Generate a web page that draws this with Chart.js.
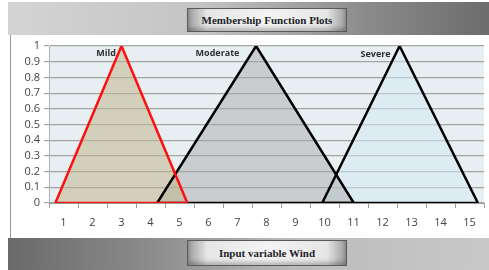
<!DOCTYPE html>
<html>
<head>
<meta charset="utf-8">
<script src="https://cdn.jsdelivr.net/npm/chart.js@4/dist/chart.umd.min.js"></script>
<style>
  body { margin: 0; background: #fff; }
  #wrap { position: relative; width: 489px; height: 270px; overflow: hidden; }
  .band { position: absolute; left: 8px; right: 0; }
  #top { top: 2px; height: 33px; background: linear-gradient(to right, #d4d4d4 0%, #c4c4c4 40%, #8a8a8a 75%, #6c6c6c 100%); }
  #bottom { top: 238px; height: 32px; background: linear-gradient(to right, #6a6a6a 0%, #8c8c8c 30%, #bcbcbc 60%, #c8c8c8 100%); }
  #panel { position: absolute; left: 10px; right: 0; top: 35px; height: 203px; background: #fff; border-left: 1px solid #9a9a9a; }
  .box { position: absolute; left: 187px; width: 158px; border: 1px solid #5a5a5a;
    background: linear-gradient(to right, #9c9c9c 0%, #e6e6e6 12%, #f4f4f4 50%, #e6e6e6 88%, #9c9c9c 100%);
    box-shadow: inset 0 -3px 4px rgba(0,0,0,0.25);
    font: bold 11px "Liberation Serif", "DejaVu Serif", serif; color: #1e1e2a; text-align: center; z-index: 2; }
  #title { top: 8px; height: 22px; line-height: 22px; }
  #xtitle { top: 240px; height: 24px; line-height: 24px; }
  canvas { position: absolute; left: 0; top: 0; z-index: 1; }
</style>
</head>
<body>
<div id="wrap">
  <div id="top" class="band"></div>
  <div id="bottom" class="band"></div>
  <div id="panel"></div>
  <div id="title" class="box">Membership Function Plots</div>
  <div id="xtitle" class="box">Input variable Wind</div>
  <canvas id="chart" width="489" height="270"></canvas>
</div>
<script>
// x axis categories (tick labels)
var categories = ["1", "2", "3", "4", "5", "6", "7", "8", "9", "10", "11", "12", "13", "14", "15"];
// y axis tick values
var yTicks = [0, 0.1, 0.2, 0.3, 0.4, 0.5, 0.6, 0.7, 0.8, 0.9, 1];

// triangle membership functions: left foot, peak, right foot
var mildX = [0.72, 3.0, 5.27];
var mildY = [0, 1, 0];
var moderateX = [4.23, 7.64, 11.01];
var moderateY = [0, 1, 0];
var severeX = [9.92, 12.59, 15.29];
var severeY = [0, 1, 0];

// series names written near the peaks
var seriesNames = ["Mild", "Moderate", "Severe"];
var nameX = [2.47, 6.31, 11.76];
var nameY = [0.955, 0.955, 0.945];

function pts(xs, ys) {
  return xs.map(function (x, i) { return { x: x, y: ys[i] }; });
}
// base edge of a triangle (first foot to last foot)
function base(xs, ys) {
  return [{ x: xs[0], y: ys[0] }, { x: xs[xs.length - 1], y: ys[ys.length - 1] }];
}

var plotBg = {
  id: "plotBg",
  beforeDraw: function (chart) {
    var a = chart.chartArea, c = chart.ctx;
    c.save();
    c.fillStyle = "#e8eff3";
    c.fillRect(a.left, a.top, a.right - a.left, a.bottom - a.top);
    c.restore();
  }
};

var names = {
  id: "names",
  afterDatasetsDraw: function (chart) {
    var c = chart.ctx, sx = chart.scales.xl, sy = chart.scales.y;
    c.save();
    c.font = "bold 9px 'Open Sans', 'Liberation Sans', sans-serif";
    c.fillStyle = "#2e2e3a";
    c.textAlign = "center";
    c.textBaseline = "middle";
    seriesNames.forEach(function (n, i) {
      c.fillText(n, sx.getPixelForValue(nameX[i]), sy.getPixelForValue(nameY[i]));
    });
    c.restore();
  }
};

var tickFont = { family: "'Open Sans', 'Liberation Sans', sans-serif", size: 11 };

function tri(label, xs, ys, line, fillCol) {
  return { label: label, xAxisID: "xl", data: pts(xs, ys), borderColor: line, borderWidth: 2.5,
    backgroundColor: fillCol, fill: "origin" };
}
function edge(label, xs, ys, line) {
  return { label: label, xAxisID: "xl", data: base(xs, ys), borderColor: line, borderWidth: 2.5, fill: false };
}

new Chart(document.getElementById("chart"), {
  type: "line",
  data: {
    labels: categories,
    datasets: [
      edge("Mild base", mildX, mildY, "#ff1010"),
      tri("Mild", mildX, mildY, "#ff1010", "rgba(192,182,140,0.55)"),
      edge("Moderate base", moderateX, moderateY, "#000"),
      tri("Moderate", moderateX, moderateY, "#000", "rgba(165,165,165,0.45)"),
      edge("Severe base", severeX, severeY, "#000"),
      tri("Severe", severeX, severeY, "#000", "rgba(212,232,242,0.55)")
    ]
  },
  options: {
    responsive: false,
    animation: false,
    layout: { padding: { top: 46, right: 5, bottom: 30, left: 0 } },
    elements: { point: { radius: 0 }, line: { tension: 0 } },
    plugins: {
      legend: { display: false },
      tooltip: { enabled: false },
      filler: { drawTime: "beforeDatasetsDraw" }
    },
    scales: {
      x: {
        type: "category",
        offset: true,
        grid: { drawOnChartArea: false, offset: true, tickLength: 5, color: "#9a9a9a" },
        border: { color: "#9a9a9a" },
        ticks: { font: tickFont, color: "#444", padding: 8 },
        afterFit: function (s) { s.height = 37; }
      },
      xl: { type: "linear", min: 0.5, max: 15.5, display: false },
      y: {
        min: 0, max: 1,
        afterBuildTicks: function (s) { s.ticks = yTicks.map(function (v) { return { value: v }; }); },
        ticks: { autoSkip: false, font: tickFont, color: "#444", padding: 4,
          callback: function (v) { return String(v); } },
        grid: { color: "#a4a4a4", tickLength: 5, lineWidth: 1.2 },
        border: { color: "#b0b0b0" },
        afterFit: function (s) { s.width = 49; }
      }
    }
  },
  plugins: [plotBg, names]
});
</script>
</body>
</html>
